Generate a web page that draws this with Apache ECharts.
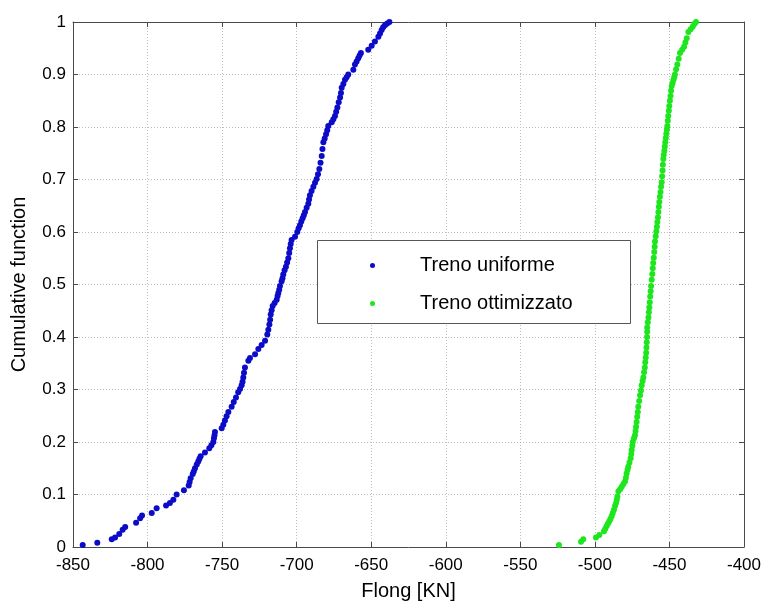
<!DOCTYPE html>
<html>
<head>
<meta charset="utf-8">
<script src="https://cdn.jsdelivr.net/npm/echarts@6/dist/echarts.min.js"></script>
<style>
  html, body { margin: 0; padding: 0; background: #fff; }
  #chart { width: 764px; height: 606px; }
</style>
</head>
<body>
<div id="chart"></div>
<script>
// Axis settings
const xTicks = { min: -850, max: -400, step: 50 };
const yTicks = { min: 0, max: 1, step: 0.1 };

const seriesNames = ['Treno uniforme', 'Treno ottimizzato'];

// Empirical cumulative distribution, [Flong (kN), cumulative fraction]
const trenoUniforme = [
  [-843.5,0.004],[-833.7,0.008],[-824,0.015],[-821.8,0.018],[-819,0.025],[-816.7,0.033],
  [-815,0.038],[-807.7,0.046],[-805,0.055],[-803.7,0.06],[-797.2,0.065],[-793.9,0.074],
  [-787.6,0.079],[-785,0.084],[-782.7,0.09],[-780.5,0.10],[-775.6,0.108],[-772.4,0.117],
  [-771.8,0.124],[-771.1,0.131],[-769.7,0.139],[-769,0.144],[-768.2,0.15],[-767,0.157],
  [-766,0.163],[-765.2,0.168],[-764.4,0.173],[-761.5,0.18],[-758.6,0.188],[-757.2,0.194],
  [-755.9,0.2],[-755.5,0.207],[-755.1,0.213],[-754.8,0.219],[-750.3,0.226],[-749.2,0.233],
  [-748.1,0.241],[-747,0.249],[-745.8,0.257],[-743.6,0.267],[-742.2,0.276],[-740.7,0.285],
  [-739.2,0.295],[-738,0.301],[-736.9,0.308],[-736.3,0.315],[-735.8,0.323],[-735.3,0.332],
  [-734.7,0.342],[-732.4,0.355],[-731.3,0.36],[-727.9,0.367],[-725.7,0.377],[-723.5,0.385],
  [-721.2,0.393],[-719.7,0.405],[-719,0.414],[-718.3,0.424],[-717.8,0.433],[-717.4,0.443],
  [-716.8,0.451],[-716.1,0.459],[-714.8,0.465],[-713.4,0.471],[-712.8,0.478],[-712.3,0.484],
  [-711.7,0.49],[-711.2,0.497],[-710.1,0.506],[-709.5,0.512],[-709,0.519],[-708.1,0.527],
  [-707.2,0.534],[-706.4,0.542],[-705.6,0.55],[-705,0.56],[-704.5,0.569],[-704,0.577],
  [-703.4,0.585],[-701.1,0.591],[-699.6,0.6],[-698.7,0.607],[-697.8,0.613],[-696.9,0.62],
  [-696,0.626],[-695.2,0.632],[-694.4,0.638],[-693.3,0.646],[-692.2,0.654],[-691.7,0.662],
  [-691.1,0.67],[-690,0.678],[-688.8,0.686],[-687.7,0.694],[-686.6,0.701],[-685.7,0.71],
  [-684.8,0.72],[-684,0.732],[-683.2,0.745],[-682.7,0.758],[-682.1,0.771],[-681.2,0.778],
  [-680.3,0.786],[-679.5,0.794],[-678.8,0.802],[-676.5,0.809],[-675.4,0.815],[-674.3,0.821],
  [-673.5,0.829],[-672.7,0.837],[-671.8,0.847],[-670.9,0.856],[-670.3,0.865],[-669.8,0.875],
  [-668.7,0.882],[-667.6,0.89],[-666.5,0.895],[-665.4,0.9],[-662,0.909],[-660.9,0.919],
  [-659.8,0.925],[-658.7,0.931],[-657.8,0.936],[-656.9,0.941],[-652,0.947],[-649.7,0.955],
  [-647.5,0.963],[-645.2,0.972],[-644.1,0.978],[-643,0.985],[-642,0.99],[-640.8,0.994],
  [-639.3,0.997],[-637.8,1.0]
];

const trenoOttimizzato = [
  [-524.1,0.004],[-509.3,0.01],[-507.8,0.015],[-499.3,0.018],[-497,0.023],[-493.9,0.03],
  [-493,0.035],[-492.1,0.04],[-491.2,0.045],[-490.3,0.049],[-489.5,0.054],[-488.7,0.059],
  [-488,0.065],[-487.2,0.071],[-486.5,0.078],[-485.8,0.084],[-485.3,0.09],[-484.9,0.096],
  [-484.2,0.106],[-483.1,0.11],[-482,0.115],[-480.9,0.12],[-479.8,0.125],[-479.2,0.132],
  [-478.7,0.14],[-478.1,0.147],[-477.6,0.153],[-476.8,0.161],[-476,0.169],[-475.6,0.177],
  [-475.3,0.185],[-474.9,0.193],[-474.6,0.2],[-473.8,0.207],[-473.1,0.213],[-472.7,0.221],
  [-472.4,0.229],[-472,0.238],[-471.6,0.248],[-471.2,0.257],[-470.9,0.267],[-470.3,0.278],
  [-469.7,0.289],[-469.1,0.298],[-468.6,0.308],[-468,0.316],[-467.5,0.323],[-467,0.333],
  [-466.5,0.342],[-466.2,0.352],[-465.9,0.361],[-465.6,0.37],[-465.4,0.38],[-465.2,0.39],
  [-465,0.40],[-464.9,0.41],[-464.9,0.418],[-464.5,0.428],[-464.1,0.437],[-463.8,0.447],
  [-463.5,0.456],[-463.2,0.466],[-462.9,0.477],[-462.6,0.487],[-462.3,0.497],[-461.9,0.509],
  [-461.5,0.52],[-461.2,0.531],[-460.9,0.541],[-460.5,0.551],[-460.2,0.562],[-459.9,0.572],
  [-459.7,0.582],[-459.2,0.592],[-458.8,0.601],[-458.4,0.61],[-458.1,0.619],[-457.7,0.628],
  [-457.4,0.638],[-457.1,0.648],[-456.8,0.657],[-456.4,0.667],[-456,0.676],[-455.6,0.686],
  [-455.2,0.695],[-454.9,0.706],[-454.6,0.717],[-454.4,0.728],[-454.1,0.739],[-453.8,0.747],
  [-453.4,0.755],[-453.1,0.763],[-452.8,0.771],[-452.4,0.779],[-452.1,0.787],[-451.7,0.795],
  [-451.4,0.802],[-451.1,0.812],[-450.8,0.821],[-450.4,0.831],[-450.1,0.84],[-449.7,0.85],
  [-449.3,0.859],[-448.9,0.869],[-448.5,0.878],[-447.9,0.884],[-447.3,0.89],[-446.8,0.895],
  [-446.3,0.9],[-445.5,0.91],[-444.7,0.919],[-443.8,0.93],[-442.9,0.941],[-441.5,0.947],
  [-440.2,0.953],[-439.3,0.961],[-438.4,0.969],[-437.3,0.981],[-435.8,0.986],[-434.4,0.991],
  [-433.3,0.996],[-432.2,1.0]
];

const FONT = '"Liberation Sans", Arial, Helvetica, sans-serif';
const AXIS_COLOR = '#4a4a4a';
const GRID_COLOR = '#bdbdbd';

const chart = echarts.init(document.getElementById('chart'), null, { renderer: 'canvas' });

function valueAxis(range, extra) {
  return Object.assign({
    type: 'value',
    min: range.min,
    max: range.max,
    interval: range.step,
    axisLine: { show: true, onZero: false, lineStyle: { color: AXIS_COLOR, width: 1 } },
    axisTick: { show: true, inside: true, length: 5, lineStyle: { color: AXIS_COLOR } },
    splitLine: { show: false },
    axisLabel: { color: '#000', fontFamily: FONT, fontSize: 17 }
  }, extra);
}

const option = {
  backgroundColor: '#fff',
  animation: false,
  grid: { left: 73, right: 20, top: 22, bottom: 55, containLabel: false },
  legend: {
    orient: 'vertical',
    left: 365,
    top: 250,
    itemWidth: 5,
    itemHeight: 5,
    itemGap: 17,
    icon: 'circle',
    selectedMode: false,
    data: seriesNames,
    textStyle: { fontFamily: FONT, fontSize: 20, color: '#000', lineHeight: 21, padding: [0, 0, 0, 40] }
  },
  graphic: [{
    type: 'rect',
    shape: { x: 317.5, y: 240.5, width: 313, height: 83 },
    style: { fill: '#fff', stroke: '#555', lineWidth: 1 },
    z: 3, zlevel: 0, silent: true
  }],
  xAxis: [
    valueAxis(xTicks, {
      position: 'bottom',
      name: 'Flong [KN]',
      nameLocation: 'middle',
      nameGap: 34,
      nameTextStyle: { color: '#000', fontFamily: FONT, fontSize: 20 },
      axisLabel: { color: '#000', fontFamily: FONT, fontSize: 17, margin: 10 },
      splitLine: { show: true, lineStyle: { color: GRID_COLOR, type: [1, 2], width: 1 } }
    }),
    valueAxis(xTicks, { position: 'top', axisLabel: { show: false } })
  ],
  yAxis: [
    valueAxis(yTicks, {
      position: 'left',
      name: 'Cumulative function',
      nameLocation: 'middle',
      nameGap: 44,
      nameRotate: 90,
      nameTextStyle: { color: '#000', fontFamily: FONT, fontSize: 20 },
      axisLabel: { color: '#000', fontFamily: FONT, fontSize: 17, margin: 7 },
      splitLine: { show: true, lineStyle: { color: GRID_COLOR, type: [1, 2], width: 1 } }
    }),
    valueAxis(yTicks, { position: 'right', axisLabel: { show: false } })
  ],
  series: [
    {
      name: seriesNames[0],
      type: 'scatter',
      data: trenoUniforme,
      symbol: 'circle',
      symbolSize: 6,
      itemStyle: { color: '#0c0cc8', opacity: 1 },
      z: 2,
      silent: true
    },
    {
      name: seriesNames[1],
      type: 'scatter',
      data: trenoOttimizzato,
      symbol: 'circle',
      symbolSize: 6,
      itemStyle: { color: '#1ee61e', opacity: 1 },
      z: 2,
      silent: true
    }
  ]
};

chart.setOption(option);
</script>
</body>
</html>
